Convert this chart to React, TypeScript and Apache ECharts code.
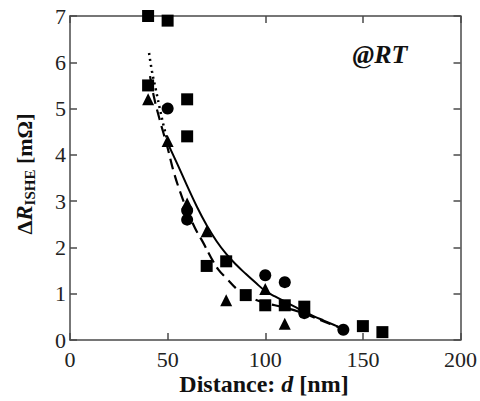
import React, { useEffect, useRef } from "react";
import * as echarts from "echarts";

// Measured data (distance in nm, ΔR in mΩ)
const squareD = [40, 50, 40, 60, 60, 70, 80, 90, 100, 110, 120, 150, 160];
const squareV = [7.0, 6.9, 5.5, 5.2, 4.4, 1.6, 1.7, 0.97, 0.75, 0.75, 0.72, 0.3, 0.17];

const circleD = [50, 60, 60, 100, 110, 120, 140];
const circleV = [5.0, 2.8, 2.6, 1.4, 1.25, 0.58, 0.22];

const triD = [40, 50, 60, 70, 80, 100, 110];
const triV = [5.2, 4.3, 2.95, 2.35, 0.86, 1.1, 0.35];

// Fit curves
const solidD = [49.5, 55, 60, 65, 70, 75, 80, 85, 90, 95, 100, 105, 110, 115, 120, 125, 130, 135, 140];
const solidV = [4.3, 3.8, 3.33, 2.88, 2.48, 2.14, 1.86, 1.63, 1.43, 1.24, 1.06, 0.94, 0.83, 0.72, 0.61, 0.51, 0.42, 0.33, 0.24];

const dashD = [41, 43, 46, 50, 53, 56, 60, 64, 68, 72, 76, 80, 86, 90, 95, 100, 110, 120, 130, 140];
const dashV = [5.7, 5.25, 4.75, 4.15, 3.65, 3.25, 2.8, 2.42, 2.12, 1.8, 1.52, 1.34, 1.08, 0.97, 0.87, 0.8, 0.7, 0.57, 0.4, 0.24];

const dotD = [40.5, 42, 44, 46, 48, 50];
const dotV = [6.2, 5.8, 5.4, 5.0, 4.62, 4.3];

const xTicks = { min: 0, max: 200, interval: 50 };
const yTicks = { min: 0, max: 7, interval: 1 };

const zip = (a: number[], b: number[]) => a.map((v, i) => [v, b[i]]);

const FONT = "Liberation Serif";
const AXIS_COLOR = "#4a4a4a";

export default function App() {
  const ref = useRef<HTMLDivElement>(null);
  useEffect(() => {
    if (!ref.current) return;
    const chart = echarts.init(ref.current, null, { renderer: "svg" });
    const axisLine = { show: true, onZero: false, lineStyle: { color: AXIS_COLOR, width: 1.5 } };
    const axisTick = { show: true, inside: true, length: 7, lineStyle: { color: AXIS_COLOR, width: 1.5 } };
    const label = {
      show: true, color: "#222", fontFamily: FONT, fontSize: 22,
      fontStyle: "normal", fontWeight: "normal",
    };
    const marker = { color: "#000", opacity: 1 };
    chart.setOption({
      animation: false,
      textStyle: { fontFamily: FONT },
      grid: { left: 70, right: 18, top: 16, bottom: 61, containLabel: false },
      xAxis: [
        { type: "value", position: "bottom", ...xTicks, axisLine, axisTick, splitLine: { show: false },
          axisLabel: { ...label, margin: 8 } },
        { type: "value", position: "top", ...xTicks, axisLine, axisTick, splitLine: { show: false },
          axisLabel: { show: false } },
      ],
      yAxis: [
        { type: "value", position: "left", ...yTicks, axisLine, axisTick, splitLine: { show: false },
          axisLabel: { ...label, margin: 4 } },
        { type: "value", position: "right", ...yTicks, axisLine, axisTick, splitLine: { show: false },
          axisLabel: { show: false } },
      ],
      series: [
        { type: "line", data: zip(solidD, solidV), showSymbol: false, smooth: 0.4,
          lineStyle: { color: "#000", width: 2 }, z: 2 },
        { type: "line", data: zip(dashD, dashV), showSymbol: false, smooth: 0.4,
          lineStyle: { color: "#000", width: 2.2, type: [11, 6] }, z: 2 },
        { type: "line", data: zip(dotD, dotV), showSymbol: false, smooth: 0.4,
          lineStyle: { color: "#000", width: 2.5, type: [2, 4] }, z: 2 },
        { type: "scatter", data: zip(squareD, squareV), symbol: "rect", symbolSize: 12,
          itemStyle: marker, z: 3 },
        { type: "scatter", data: zip(circleD, circleV), symbol: "circle", symbolSize: 12,
          itemStyle: marker, z: 3 },
        { type: "scatter", data: zip(triD, triV), symbol: "triangle", symbolSize: 12,
          itemStyle: marker, z: 3 },
      ],
      graphic: [
        {
          type: "text", x: 24, y: 174, rotation: Math.PI / 2,
          style: {
            text: "{d|Δ}{r|R}{s|ISHE}{u| [mΩ]}",
            align: "center", verticalAlign: "middle",
            rich: {
              d: { fontFamily: FONT, fontSize: 22, fontWeight: "bold", fill: "#111", lineHeight: 26 },
              r: { fontFamily: FONT, fontSize: 23, fontWeight: "bold", fontStyle: "italic", fill: "#111", lineHeight: 26 },
              s: { fontFamily: FONT, fontSize: 15, fontWeight: "bold", fill: "#111", verticalAlign: "bottom", lineHeight: 14 },
              u: { fontFamily: FONT, fontSize: 22, fontWeight: "bold", fill: "#111", lineHeight: 26 },
            },
          },
        },
        {
          type: "text", x: 264, y: 384,
          style: {
            text: "{n|Distance: }{i|d}{n| [nm]}",
            align: "center", verticalAlign: "middle",
            rich: {
              n: { fontFamily: FONT, fontSize: 24, fontWeight: "bold", fill: "#111" },
              i: { fontFamily: FONT, fontSize: 24, fontWeight: "bold", fontStyle: "italic", fill: "#111" },
            },
          },
        },
        {
          type: "text", x: 380, y: 54,
          style: {
            text: "@RT", align: "center", verticalAlign: "middle",
            fontFamily: FONT, fontSize: 26, fontWeight: "bold", fontStyle: "italic", fill: "#111",
          },
        },
      ],
    });
    return () => chart.dispose();
  }, []);
  return <div ref={ref} style={{ width: 480, height: 401, position: "absolute", left: 0, top: 0 }} />;
}
